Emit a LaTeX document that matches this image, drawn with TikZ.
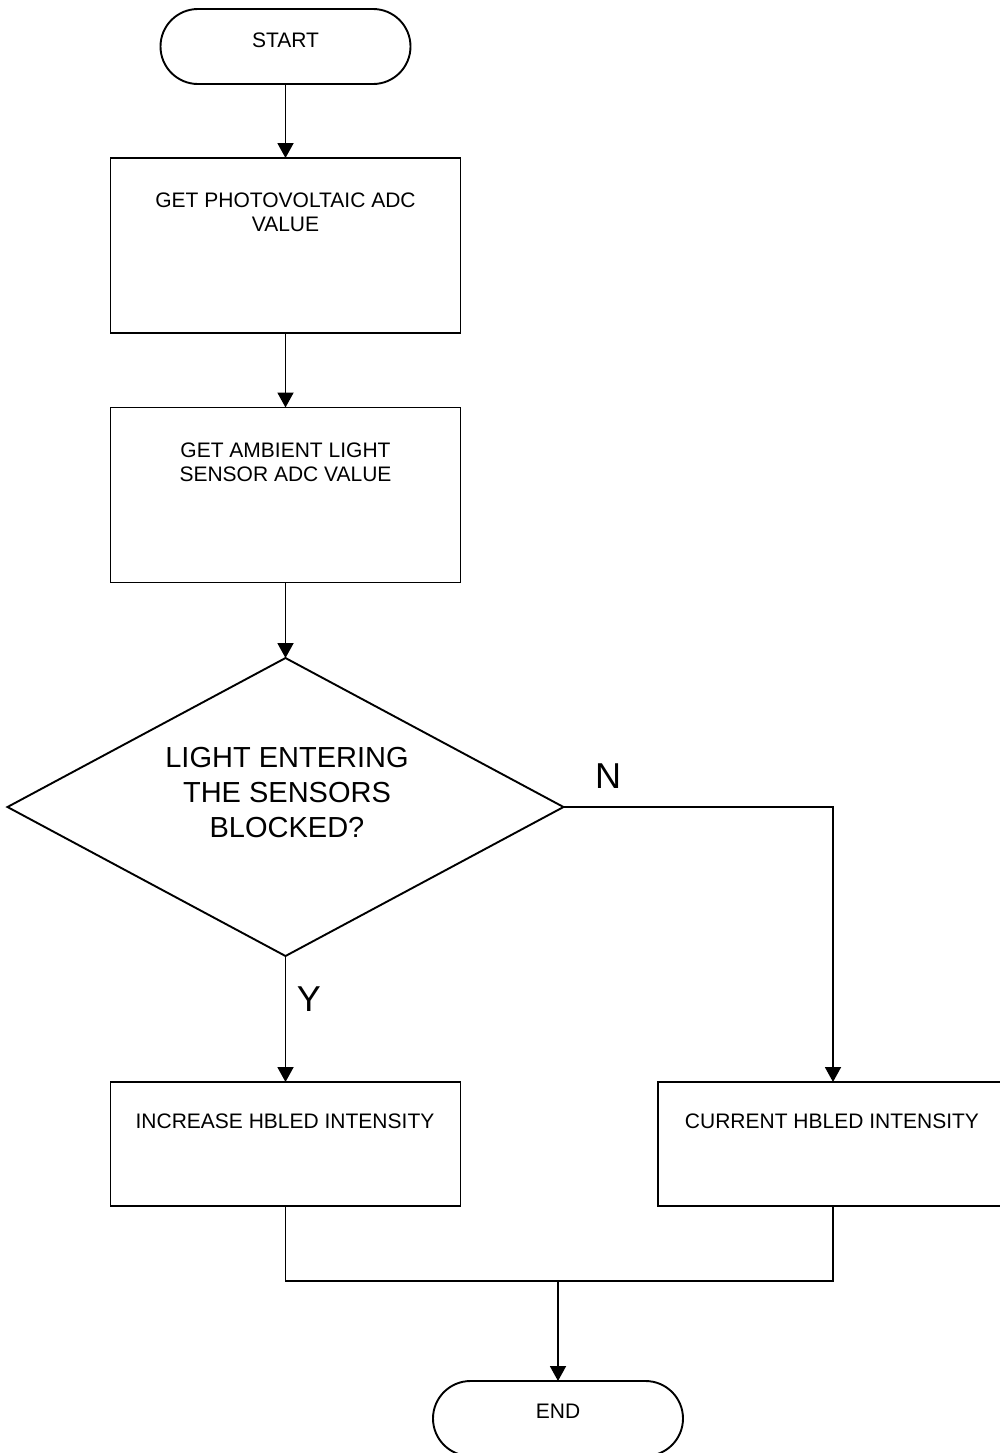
\documentclass[tikz,border=0pt]{standalone}
\usepackage{fontspec}
\setmainfont{Liberation Sans}
\usetikzlibrary{arrows.meta,shapes.geometric,shapes.misc}
\tikzset{
  ln/.style={line width=0.95pt, draw=black},
  arr/.style={ln, -{Triangle[length=7.5pt,width=8pt]}},
  term/.style={ln, rounded rectangle, minimum width=125pt, minimum height=37.5pt, inner sep=0pt, outer sep=0pt},
  procbox/.style={ln, rectangle, minimum width=175pt, minimum height=87.5pt, inner sep=0pt, outer sep=0pt},
  decision/.style={ln, diamond, minimum width=278pt, minimum height=149pt, inner sep=0pt, outer sep=0pt},
  smalltxt/.style={anchor=north, inner sep=0pt, align=center, font=\fontsize{10.5}{12}\selectfont},
  bigtxt/.style={anchor=north, inner sep=0pt, align=center, font=\fontsize{14.5}{17.5}\selectfont},
  yntxt/.style={anchor=north, inner sep=0pt, font=\fontsize{18}{21}\selectfont}
}
\begin{document}
\begin{tikzpicture}[x=0.5pt,y=-0.5pt]
\useasboundingbox (0,0) rectangle (1000,1453);
\clip (0,0) rectangle (1000,1453);
\fill[white] (0,0) rectangle (1000,1453);
% shapes
\node[term] (start) at (285.5,46.5) {};
\node[procbox] (b1) at (285.5,245.5) {};
\node[procbox] (b2) at (285.5,495) {};
\node[decision] (dia) at (285.5,807) {};
\node[procbox, minimum height=62pt] (b3) at (285.5,1144) {};
\node[procbox, minimum height=62pt] (b4) at (833,1144) {};
\node[term] (end) at (558,1418.5) {};
% texts
\node[smalltxt] (tstart) at (285.5,32) {START};
\node[smalltxt] (t1) at (285.5,192) {GET PHOTOVOLTAIC ADC\\VALUE};
\node[smalltxt] (t2) at (285.5,442) {GET AMBIENT LIGHT\\SENSOR ADC VALUE};
\node[bigtxt] (td) at (287,747) {LIGHT ENTERING\\THE SENSORS\\BLOCKED?};
\node[smalltxt] (t3) at (285,1113) {INCREASE HBLED INTENSITY};
\node[smalltxt] (t4) at (832,1113) {CURRENT HBLED INTENSITY};
\node[smalltxt] (tend) at (558,1404) {END};
\node[yntxt] (lN) at (608,763) {N};
\node[yntxt] (lY) at (309,986) {Y};
% connectors
\coordinate (join) at (558,1281);
\draw[arr] (start.south) -- (b1.north);
\draw[arr] (b1.south) -- (b2.north);
\draw[arr] (b2.south) -- (dia.north);
\draw[arr] (dia.south) -- (b3.north);
\draw[arr] (dia.east) -| (b4.north);
\draw[ln] (b3.south) |- (join);
\draw[ln] (b4.south) |- (join);
\draw[arr] (join) -- (end.north);
\end{tikzpicture}
\end{document}
